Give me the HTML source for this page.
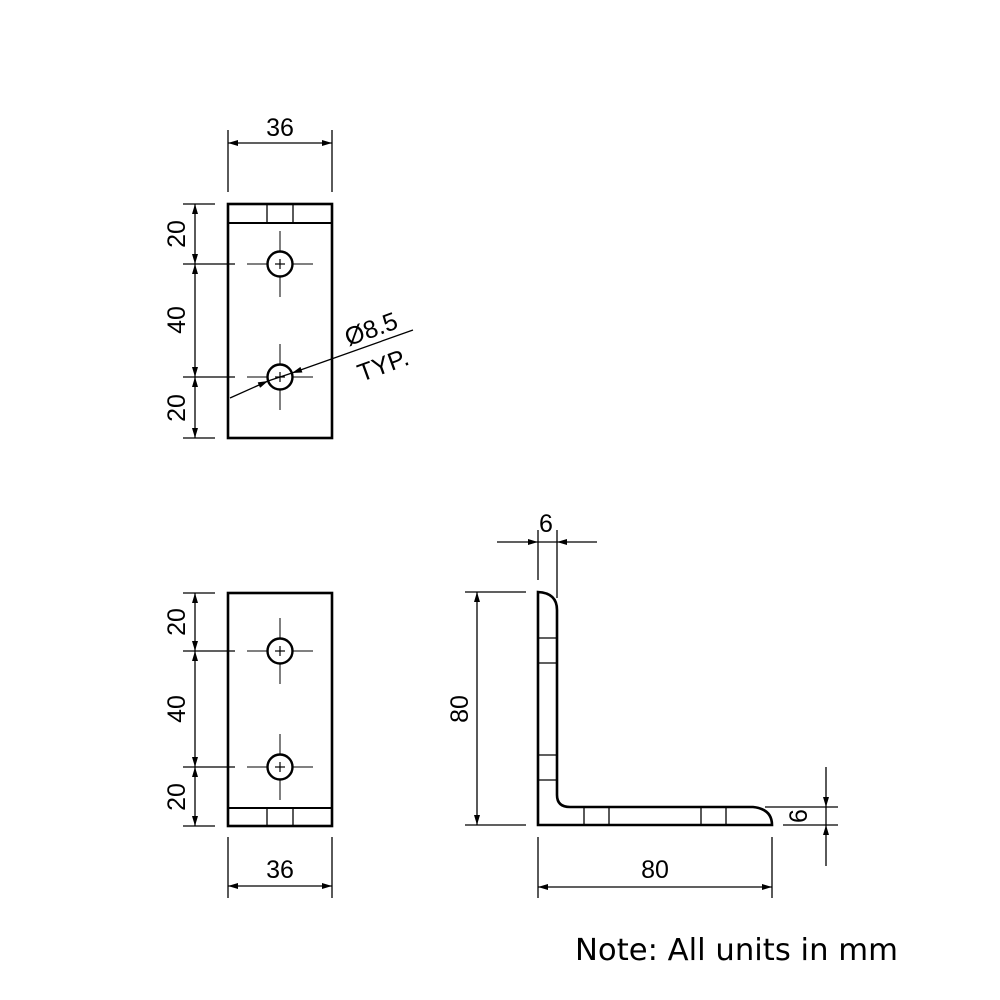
<!DOCTYPE html>
<html><head><style>body{margin:0;background:#fff}svg{display:block}</style></head><body>
<svg width="1000" height="1000" viewBox="0 0 1000 1000" xmlns="http://www.w3.org/2000/svg" font-family="Liberation Sans, sans-serif">
<defs>
<marker id="a" viewBox="0 0 10 6" refX="10" refY="3" markerWidth="11" markerHeight="6" markerUnits="userSpaceOnUse" orient="auto-start-reverse"><path d="M0,0L10,3L0,6z" fill="#000"/></marker>
<g id="hole">
<line x1="247" y1="0" x2="313" y2="0" stroke="#000" stroke-width="1"/>
<line x1="280" y1="-33" x2="280" y2="33" stroke="#000" stroke-width="1"/>
<circle cx="280" cy="0" r="12.5" fill="#fff" stroke="#000" stroke-width="2.4"/>
<line x1="275" y1="0" x2="285" y2="0" stroke="#000" stroke-width="1.2"/>
<line x1="280" y1="-5" x2="280" y2="5" stroke="#000" stroke-width="1.2"/>
</g>
</defs>
<g stroke="#000" fill="none">
<rect x="228" y="204" width="104" height="234" stroke-width="2.6"/>
<line x1="228" y1="223" x2="332" y2="223" stroke-width="2"/>
<line x1="267" y1="204" x2="267" y2="223" stroke-width="1.3"/>
<line x1="293" y1="204" x2="293" y2="223" stroke-width="1.3"/>
<g stroke-width="1.3">
<line x1="228" y1="130" x2="228" y2="192"/>
<line x1="332" y1="130" x2="332" y2="192"/>
<line x1="228" y1="143" x2="332" y2="143" marker-start="url(#a)" marker-end="url(#a)"/>
<line x1="183" y1="204" x2="215" y2="204"/>
<line x1="183" y1="264" x2="235" y2="264"/>
<line x1="183" y1="377" x2="235" y2="377"/>
<line x1="183" y1="438" x2="215" y2="438"/>
<line x1="195" y1="204" x2="195" y2="264" marker-start="url(#a)" marker-end="url(#a)"/>
<line x1="195" y1="264" x2="195" y2="377" marker-start="url(#a)" marker-end="url(#a)"/>
<line x1="195" y1="377" x2="195" y2="438" marker-start="url(#a)" marker-end="url(#a)"/>
</g>
<rect x="228" y="593" width="104" height="233" stroke-width="2.6"/>
<line x1="228" y1="808" x2="332" y2="808" stroke-width="2"/>
<line x1="267" y1="808" x2="267" y2="826" stroke-width="1.3"/>
<line x1="293" y1="808" x2="293" y2="826" stroke-width="1.3"/>
<g stroke-width="1.3">
<line x1="183" y1="593" x2="215" y2="593"/>
<line x1="183" y1="651" x2="235" y2="651"/>
<line x1="183" y1="767" x2="235" y2="767"/>
<line x1="183" y1="826" x2="215" y2="826"/>
<line x1="195" y1="593" x2="195" y2="651" marker-start="url(#a)" marker-end="url(#a)"/>
<line x1="195" y1="651" x2="195" y2="767" marker-start="url(#a)" marker-end="url(#a)"/>
<line x1="195" y1="767" x2="195" y2="826" marker-start="url(#a)" marker-end="url(#a)"/>
<line x1="228" y1="837" x2="228" y2="898"/>
<line x1="332" y1="837" x2="332" y2="898"/>
<line x1="228" y1="886" x2="332" y2="886" marker-start="url(#a)" marker-end="url(#a)"/>
</g>
<path d="M538,825 L538,592 Q557,593 557,610 L557,795 Q557,807 570,807 L753,807 Q772,809 772,825 Z" stroke-width="2.6"/>
<g stroke-width="1.3">
<line x1="538" y1="638" x2="557" y2="638"/><line x1="538" y1="663" x2="557" y2="663"/>
<line x1="538" y1="755" x2="557" y2="755"/><line x1="538" y1="780" x2="557" y2="780"/>
<line x1="584" y1="807" x2="584" y2="825"/><line x1="609" y1="807" x2="609" y2="825"/>
<line x1="701" y1="807" x2="701" y2="825"/><line x1="726" y1="807" x2="726" y2="825"/>
</g>
<g stroke-width="1.3">
<line x1="538" y1="530" x2="538" y2="580"/>
<line x1="557" y1="530" x2="557" y2="598"/>
<line x1="497" y1="542" x2="538" y2="542" marker-end="url(#a)"/>
<line x1="597" y1="542" x2="557" y2="542" marker-end="url(#a)"/>
<line x1="538" y1="542" x2="557" y2="542"/>
<line x1="465" y1="592" x2="526" y2="592"/>
<line x1="465" y1="825" x2="526" y2="825"/>
<line x1="477" y1="592" x2="477" y2="825" marker-start="url(#a)" marker-end="url(#a)"/>
<line x1="538" y1="837" x2="538" y2="898"/>
<line x1="772" y1="837" x2="772" y2="898"/>
<line x1="538" y1="887" x2="772" y2="887" marker-start="url(#a)" marker-end="url(#a)"/>
<line x1="765" y1="807" x2="838" y2="807"/>
<line x1="783" y1="825" x2="838" y2="825"/>
<line x1="826" y1="767" x2="826" y2="807" marker-end="url(#a)"/>
<line x1="826" y1="866" x2="826" y2="825" marker-end="url(#a)"/>
<line x1="826" y1="807" x2="826" y2="825"/>
</g>
</g>
<use href="#hole" y="264"/>
<use href="#hole" y="377"/>
<use href="#hole" y="651"/>
<use href="#hole" y="767"/>
<g stroke="#000" stroke-width="1.3" fill="none">
<line x1="230" y1="398" x2="268" y2="381" marker-end="url(#a)"/>
<line x1="413" y1="330" x2="292" y2="373" marker-end="url(#a)"/>
<line x1="268" y1="381" x2="292" y2="373"/>
</g>
<g font-size="25" fill="#000" text-anchor="middle">
<text x="280" y="136">36</text>
<text x="280" y="878">36</text>
<text x="655" y="878">80</text>
<text x="546" y="532">6</text>
<text transform="translate(185,234) rotate(-90)">20</text>
<text transform="translate(185,320) rotate(-90)">40</text>
<text transform="translate(185,408) rotate(-90)">20</text>
<text transform="translate(185,622) rotate(-90)">20</text>
<text transform="translate(185,709) rotate(-90)">40</text>
<text transform="translate(185,797) rotate(-90)">20</text>
<text transform="translate(468,709) rotate(-90)">80</text>
<text transform="translate(807,816) rotate(-90)">6</text>
<text transform="translate(374,337) rotate(-20)">Ø8.5</text>
<text transform="translate(386,373) rotate(-20)">TYP.</text>
</g>
<text x="575" y="960" font-size="30" fill="#000" font-family="DejaVu Sans, Liberation Sans, sans-serif" textLength="323" lengthAdjust="spacingAndGlyphs">Note: All units in mm</text>
</svg>
</body></html>
